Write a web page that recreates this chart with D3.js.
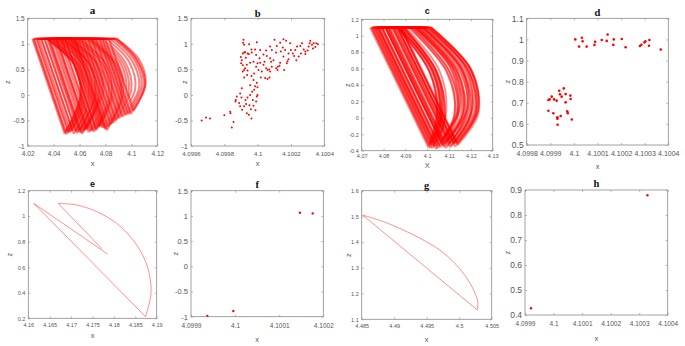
<!DOCTYPE html>
<html>
<head>
<meta charset="utf-8">
<script src="https://cdn.jsdelivr.net/npm/d3@7"></script>
<style>
  body { margin: 0; background: #fff; }
  svg { display: block; }
</style>
</head>
<body>
<svg id="fig" width="685" height="346"></svg>
<script>
// ---- panel a : loops (start on z = 1.1, diagonal to bottom, arc back up) ----
const aTopZ = 1.1;
const aTopStart = [4.0236,4.0365,4.0489,4.0286,4.0615,4.0328,4.0798,4.0400,4.0249,4.0542,
                   4.0350,4.0666,4.0443,4.0273,4.0563,4.0371,4.0754,4.0459,4.0304,4.0530,
                   4.0828,4.0422,4.0245,4.0590,4.0332,4.0490,4.0696,4.0388,4.0266,4.0556,
                   4.0359,4.0639,4.0425,4.0306,4.0513,4.0777,4.0414,4.0466,4.0570,4.0725];
const aBottomX = [4.0485,4.0612,4.0725,4.0530,4.0840,4.0570,4.0995,4.0640,4.0500,4.0775,
                  4.0595,4.0880,4.0685,4.0520,4.0800,4.0620,4.0955,4.0700,4.0545,4.0760,
                  4.1017,4.0660,4.0490,4.0820,4.0580,4.0730,4.0905,4.0630,4.0510,4.0790,
                  4.0600,4.0860,4.0670,4.0555,4.0745,4.0975,4.0650,4.0710,4.0810,4.0930];
const aBottomZ = [-0.76,-0.74,-0.66,-0.72,-0.58,-0.71,-0.37,-0.69,-0.77,-0.64,
                  -0.73,-0.50,-0.71,-0.74,-0.67,-0.76,-0.40,-0.70,-0.70,-0.62,
                  -0.31,-0.68,-0.73,-0.62,-0.75,-0.69,-0.46,-0.71,-0.72,-0.65,
                  -0.70,-0.55,-0.73,-0.76,-0.63,-0.38,-0.66,-0.72,-0.69,-0.43];
const aRightX = [4.0605,4.0730,4.0845,4.0650,4.0960,4.0690,4.1107,4.0760,4.0615,4.0895,
                 4.0715,4.1000,4.0805,4.0638,4.0920,4.0740,4.1078,4.0820,4.0665,4.0880,
                 4.1110,4.0780,4.0608,4.0940,4.0700,4.0850,4.1030,4.0750,4.0628,4.0910,
                 4.0720,4.0980,4.0790,4.0675,4.0865,4.1095,4.0770,4.0830,4.0930,4.1060];
const aRightZ = [-0.05,-0.04,0.01,-0.03,0.06,-0.02,0.19,-0.01,-0.06,0.02,
                 -0.03,0.11,-0.02,-0.04,0.00,-0.05,0.17,-0.02,-0.02,0.03,
                 0.23,0.00,-0.03,0.03,-0.05,-0.01,0.13,-0.02,-0.03,0.02,
                 -0.02,0.08,-0.03,-0.05,0.03,0.18,0.01,-0.03,-0.01,0.15];
const aShoulderX = [4.0560,4.0685,4.0800,4.0600,4.0915,4.0645,4.1045,4.0712,4.0570,4.0850,
                    4.0668,4.0950,4.0760,4.0590,4.0875,4.0692,4.1025,4.0775,4.0618,4.0835,
                    4.1055,4.0735,4.0562,4.0895,4.0652,4.0805,4.0980,4.0705,4.0582,4.0865,
                    4.0675,4.0932,4.0745,4.0628,4.0820,4.1038,4.0725,4.0785,4.0885,4.1005];
const aShoulderZ = [0.58,0.58,0.61,0.59,0.63,0.59,0.69,0.60,0.58,0.61,
                    0.59,0.65,0.59,0.58,0.60,0.58,0.68,0.60,0.60,0.62,
                    0.71,0.60,0.59,0.62,0.58,0.60,0.66,0.59,0.59,0.61,
                    0.60,0.64,0.59,0.58,0.62,0.69,0.61,0.59,0.60,0.67];
const aTopEnd = [4.0350,4.0470,4.0600,4.0395,4.0725,4.0440,4.0888,4.0510,4.0355,4.0660,
                 4.0460,4.0775,4.0555,4.0385,4.0680,4.0485,4.0862,4.0570,4.0415,4.0645,
                 4.0886,4.0530,4.0350,4.0705,4.0445,4.0600,4.0805,4.0500,4.0375,4.0670,
                 4.0470,4.0750,4.0540,4.0420,4.0625,4.0875,4.0520,4.0580,4.0690,4.0835];

// ---- panel b : scatter ----
const bX = [4.099664,4.099690,4.099714,4.099800,4.099837,4.099855,4.099845,4.099869,4.099867,4.099889,
            4.099895,4.099903,4.099907,4.099919,4.099931,4.099935,4.099947,4.099959,4.099963,4.099971,
            4.099939,4.099991,4.099995,4.099987,4.099999,4.099979,4.099967,4.099955,4.099985,4.099999,
            4.099995,4.099975,4.099955,4.099937,4.099919,4.099939,4.099925,4.099911,4.099901,4.099899,
            4.099905,4.099911,4.099911,4.099919,4.099925,4.099939,4.099913,4.099915,4.099919,4.099949,
            4.099963,4.099965,4.099985,4.099995,4.099991,4.099975,4.099955,4.099935,4.099919,4.099999,
            4.100015,4.100005,4.100025,4.100011,4.100035,4.100051,4.100055,4.100041,4.100051,4.100059,
            4.100069,4.100045,4.100059,4.100075,4.100071,4.100085,4.100081,4.100095,4.100111,4.100111,
            4.100121,4.100119,4.100131,4.100135,4.100139,4.100115,4.100151,4.100165,4.100155,4.100175,
            4.100159,4.100185,4.100171,4.100155,4.100135,4.100195,4.100199,4.100211,4.100219,4.100232,
            4.100246,4.100260,4.100236,4.100226,4.100256,4.100276,4.100286,4.100266,4.100300,4.100312,
            4.100316,4.100326,4.100336,4.100332,4.100352,4.100362,4.100346,4.100306,4.100286,4.100185,
            4.100179,4.100075,4.100085,4.100035,4.100019,4.099979,4.099963,4.099905,4.099895,4.099875,
            4.099927,4.099835,4.099951,4.099975,4.100015,4.100075,4.100101,4.099929,4.099947,4.099991];
const bZ = [-0.50,-0.44,-0.46,-0.40,-0.36,-0.53,-0.64,-0.10,-0.13,-0.16,
            -0.22,-0.05,-0.29,-0.22,-0.18,-0.36,-0.39,-0.28,-0.46,-0.10,
            -0.05,-0.13,-0.03,-0.30,0.00,0.10,0.06,0.00,0.17,0.15,
            0.24,0.29,0.19,0.39,0.34,0.48,0.52,0.46,0.62,0.74,
            0.68,0.58,0.81,0.83,0.84,0.81,1.02,1.08,0.98,0.99,
            0.89,0.83,0.89,1.03,0.78,0.65,0.63,0.59,0.49,0.62,
            0.63,0.49,0.46,0.72,0.79,0.87,0.76,0.65,0.52,0.49,
            0.50,0.33,0.31,0.46,0.34,0.55,0.65,0.68,0.83,0.52,
            0.55,0.49,0.57,0.63,0.85,0.96,0.93,0.88,0.75,0.62,
            0.49,0.70,1.06,1.09,1.02,1.01,0.88,0.81,0.76,0.68,
            0.75,0.81,0.95,0.88,0.96,0.89,0.85,1.01,0.87,1.01,
            1.06,0.98,1.01,0.91,1.01,0.99,0.94,0.95,0.80,0.81,
            0.66,0.72,0.88,0.59,0.34,0.42,0.37,0.13,0.03,-0.03,
            -0.10,-0.33,-0.20,-0.21,0.88,0.95,1.08,0.73,0.80,0.55];

// ---- panel c : loops ----
const cTopZ = 1.1;
const cTopStart = [4.0738,4.0820,4.0765,4.0864,4.0787,4.0842,4.0746,4.0878,4.0809,4.0769,
                   4.0843,4.0758,4.0876,4.0793,4.0847,4.0777,4.0816,4.0750,4.0865,4.0808,
                   4.0791,4.0838,4.0756,4.0877,4.0795,4.0827,4.0745,4.0864,4.0810,4.0775,
                   4.0853,4.0808,4.0863,4.0762,4.0826,4.0779,4.0854,4.0774,4.0819,4.0882];
const cBottomX = [4.1005,4.1080,4.1030,4.1120,4.1050,4.1100,4.1015,4.1140,4.1065,4.1040,
                  4.1095,4.1020,4.1130,4.1060,4.1110,4.1035,4.1085,4.1010,4.1125,4.1070,
                  4.1045,4.1105,4.1025,4.1135,4.1055,4.1090,4.1008,4.1115,4.1075,4.1038,
                  4.1100,4.1060,4.1128,4.1018,4.1082,4.1048,4.1112,4.1028,4.1068,4.1138];
const cBottomZ = [-0.36,-0.32,-0.35,-0.30,-0.34,-0.31,-0.37,-0.33,-0.30,-0.38,
                  -0.28,-0.33,-0.29,-0.36,-0.34,-0.31,-0.37,-0.32,-0.32,-0.33,
                  -0.29,-0.36,-0.37,-0.31,-0.32,-0.34,-0.34,-0.27,-0.35,-0.34,
                  -0.25,-0.28,-0.35,-0.30,-0.30,-0.37,-0.31,-0.29,-0.26,-0.30];
const cRightX = [4.1065,4.1165,4.1065,4.1215,4.1125,4.1190,4.1050,4.1234,4.1145,4.1082,
                 4.1180,4.1058,4.1225,4.1140,4.1200,4.1075,4.1172,4.1045,4.1220,4.1155,
                 4.1088,4.1196,4.1062,4.1230,4.1135,4.1182,4.1045,4.1205,4.1162,4.1080,
                 4.1185,4.1140,4.1222,4.1058,4.1168,4.1125,4.1205,4.1070,4.1150,4.1232];
const cRightZ = [0.03,0.06,0.04,0.08,0.05,0.07,0.02,0.05,0.08,0.02,
                 0.09,0.05,0.09,0.03,0.05,0.07,0.02,0.06,0.06,0.05,
                 0.09,0.03,0.02,0.07,0.06,0.05,0.05,0.10,0.04,0.05,
                 0.11,0.09,0.04,0.08,0.08,0.02,0.07,0.09,0.11,0.08];
const cShoulderX = [4.1035,4.1135,4.1030,4.1185,4.1092,4.1160,4.1015,4.1204,4.1112,4.1045,
                    4.1150,4.1022,4.1195,4.1105,4.1170,4.1040,4.1140,4.1010,4.1190,4.1122,
                    4.1052,4.1165,4.1027,4.1200,4.1100,4.1150,4.1010,4.1175,4.1130,4.1045,
                    4.1155,4.1108,4.1192,4.1022,4.1136,4.1090,4.1175,4.1035,4.1118,4.1202];
const cShoulderZ = [0.55,0.57,0.56,0.59,0.56,0.58,0.55,0.57,0.59,0.54,
                    0.60,0.57,0.60,0.55,0.56,0.58,0.55,0.57,0.57,0.57,
                    0.60,0.55,0.55,0.58,0.57,0.56,0.56,0.61,0.56,0.56,
                    0.62,0.60,0.56,0.59,0.59,0.55,0.58,0.60,0.61,0.59];
const cTopEnd = [4.0870,4.0955,4.0890,4.1000,4.0915,4.0975,4.0868,4.1020,4.0940,4.0895,
                 4.0975,4.0875,4.1012,4.0930,4.0985,4.0890,4.0958,4.0862,4.1005,4.0945,
                 4.0900,4.0982,4.0875,4.1015,4.0930,4.0968,4.0865,4.0995,4.0950,4.0895,
                 4.0980,4.0940,4.1008,4.0878,4.0962,4.0922,4.0992,4.0885,4.0948,4.1018];

// ---- panel d : scatter ----
const dX = [4.100006,4.100022,4.100034,4.100037,4.100054,4.100087,4.100090,4.100118,4.100139,4.100143,
            4.100169,4.100167,4.100203,4.100219,4.100280,4.100286,4.100299,4.100303,4.100320,4.100318,
            4.100368,4.099892,4.099897,4.099906,4.099916,4.099927,4.099938,4.099941,4.099948,4.099957,
            4.099965,4.099965,4.099985,4.099986,4.099892,4.099913,4.099930,4.099930,4.099931,4.099944,
            4.099972,4.099974,4.099991];
const dZ = [1.000,0.966,1.008,0.991,0.966,0.974,0.989,0.997,0.993,1.023,
            1.000,0.974,1.002,0.963,0.969,0.975,0.986,0.991,0.997,0.970,
            0.952,0.713,0.716,0.729,0.716,0.710,0.757,0.740,0.729,0.768,
            0.741,0.702,0.734,0.718,0.662,0.650,0.631,0.624,0.596,0.637,
            0.659,0.650,0.621];

// ---- panel e : one trajectory ----
const eLeg1X = [4.1785, 4.1613, 4.1874];
const eLeg1Z = [0.704, 1.100, 0.213];
const eArcX = [4.1874, 4.18868, 4.18806, 4.1865, 4.18416, 4.18065, 4.17598, 4.1713, 4.1670];
const eArcZ = [0.213, 0.396, 0.579, 0.709, 0.827, 0.944, 1.036, 1.088, 1.100];
const eLeg2X = [4.1670, 4.1772];
const eLeg2Z = [1.100, 0.745];

// ---- panel f : scatter ----
const fX = [4.099937, 4.099996, 4.100147, 4.100176];
const fZ = [-0.987, -0.888, 1.063, 1.050];

// ---- panel g : one loop ----
const gLegX = [4.48515, 4.5028];
const gLegZ = [1.505, 1.136];
const gArcX = [4.5028, 4.50285, 4.50244, 4.50167, 4.50064, 4.49910, 4.49705, 4.49449, 4.49141, 4.48833, 4.48515];
const gArcZ = [1.136, 1.169, 1.201, 1.240, 1.279, 1.324, 1.369, 1.408, 1.447, 1.480, 1.505];

// ---- panel h : scatter ----
const hX = [4.099921, 4.100329];
const hZ = [0.427, 0.879];

// ---- axis ticks ----
const ticksA = { x: [4.02,4.04,4.06,4.08,4.1,4.12], y: [-1,-0.5,0,0.5,1,1.5] };
const ticksB = { x: [4.0996,4.0998,4.1,4.1002,4.1004], y: [-1,-0.5,0,0.5,1,1.5] };
const ticksC = { x: [4.07,4.08,4.09,4.1,4.11,4.12,4.13], y: [-0.4,-0.2,0,0.2,0.4,0.6,0.8,1,1.2] };
const ticksD = { x: [4.0998,4.0999,4.1,4.1001,4.1002,4.1003,4.1004], y: [0.5,0.6,0.7,0.8,0.9,1,1.1] };
const ticksE = { x: [4.16,4.165,4.17,4.175,4.18,4.185,4.19], y: [0.2,0.4,0.6,0.8,1,1.2] };
const ticksF = { x: [4.0999,4.1,4.1001,4.1002], y: [-1,-0.5,0,0.5,1,1.5] };
const ticksG = { x: [4.485,4.49,4.495,4.5,4.505], y: [1.1,1.2,1.3,1.4,1.5,1.6] };
const ticksH = { x: [4.0999,4.1,4.1001,4.1002,4.1003,4.1004], y: [0.4,0.5,0.6,0.7,0.8,0.9] };

const SANS = "'Liberation Sans', Arial, sans-serif";
const SERIF = "'Liberation Serif', 'Times New Roman', serif";
const RED = "#ff0000";
const svg = d3.select("#fig");

const fmt = v => String(+v.toFixed(6));

function panel(p) {
  const [x0, y0, x1, y1] = p.box;
  const x = d3.scaleLinear().domain([p.ticks.x[0], p.ticks.x[p.ticks.x.length - 1]]).range([x0, x1]);
  const y = d3.scaleLinear().domain([p.ticks.y[0], p.ticks.y[p.ticks.y.length - 1]]).range([y1, y0]);
  const g = svg.append("g");

  g.append("clipPath").attr("id", "clip-" + p.name)
    .append("rect").attr("x", x0).attr("y", y0).attr("width", x1 - x0).attr("height", y1 - y0);

  const axes = [
    [d3.axisBottom(x).tickValues(p.ticks.x), `translate(0,${y1})`, p.xFont, p.xPad],
    [d3.axisTop(x).tickValues(p.ticks.x), `translate(0,${y0})`, null, 0],
    [d3.axisLeft(y).tickValues(p.ticks.y), `translate(${x0},0)`, p.yFont, 3],
    [d3.axisRight(y).tickValues(p.ticks.y), `translate(${x1},0)`, null, 0]
  ];
  axes.forEach(([ax, tr, fs, pad]) => {
    const a = g.append("g").attr("transform", tr)
      .call(ax.tickSize(-2).tickPadding(pad).tickFormat(fs ? fmt : ""));
    a.select(".domain").remove();
    a.selectAll("line").attr("stroke", "#8a8a8a").attr("stroke-width", 0.6);
    a.selectAll("text").attr("fill", "#555")
      .style("font-family", SANS).style("font-size", fs + "px");
  });

  g.append("rect").attr("x", x0).attr("y", y0).attr("width", x1 - x0).attr("height", y1 - y0)
    .attr("fill", "none").attr("stroke", "#8a8a8a").attr("stroke-width", 0.8);

  g.append("text").text(p.name)
    .attr("x", (x0 + x1) / 2).attr("y", p.titleY).attr("text-anchor", "middle")
    .style("font-family", p.titleSans ? SANS : SERIF).style("font-weight", "bold")
    .style("font-size", p.titleSize + "px").attr("fill", "#111");
  g.append("text").text(p.xLabel || "x")
    .attr("x", (x0 + x1) / 2).attr("y", p.xLabY).attr("text-anchor", "middle")
    .style("font-family", SANS).style("font-size", "7.5px").attr("fill", "#555");
  g.append("text").text("z")
    .attr("transform", `translate(${p.zLabX},${(y0 + y1) / 2}) rotate(-90)`)
    .attr("text-anchor", "middle")
    .style("font-family", SANS).style("font-size", "7.5px").attr("fill", "#555");

  const layer = g.append("g").attr("clip-path", `url(#clip-${p.name})`);
  p.draw(layer, x, y);
}

// each loop: along z = top from start, straight down to the bottom cusp,
// then a smooth arc through the rightmost point and the shoulder back up to top
function loops(L, width, opacity) {
  return (layer, x, y) => {
    const straight = d3.line().x(d => x(d[0])).y(d => y(d[1]));
    const curved = d3.line().x(d => x(d[0])).y(d => y(d[1])).curve(d3.curveCatmullRom.alpha(0.5));
    L.start.forEach((s, i) => {
      let d = straight([[s, L.top], [L.botX[i], L.botZ[i]]]) +
              curved([[L.botX[i], L.botZ[i]], [L.rightX[i], L.rightZ[i]],
                      [L.shX[i], L.shZ[i]], [L.end[i], L.top]]);
      if (i + 1 < L.start.length) d += straight([[L.end[i], L.top], [L.start[i + 1], L.top]]);
      layer.append("path").attr("d", d).attr("fill", "none")
        .attr("stroke", RED).attr("stroke-width", width).attr("stroke-opacity", opacity)
        .attr("stroke-linejoin", "round");
    });
  };
}

function dots(xs, zs, r) {
  return (layer, x, y) => {
    layer.selectAll("circle").data(xs).join("circle")
      .attr("cx", d => x(d)).attr("cy", (d, i) => y(zs[i])).attr("r", r).attr("fill", RED);
  };
}

function curves(pieces) {
  return (layer, x, y) => {
    pieces.forEach(([px, pz, smooth]) => {
      const line = d3.line().x(d => x(d[0])).y(d => y(d[1]));
      if (smooth) line.curve(d3.curveCatmullRom.alpha(0.5));
      layer.append("path").attr("d", line(px.map((v, i) => [v, pz[i]])))
        .attr("fill", "none").attr("stroke", RED).attr("stroke-width", 0.8).attr("stroke-opacity", 0.55);
    });
  };
}

panel({ name: "a", box: [27.7, 18.3, 157.3, 146], ticks: ticksA, xFont: 6.5, yFont: 6.5, xPad: 5,
  titleY: 13.5, titleSize: 11, xLabY: 166, zLabX: 9.5,
  draw: loops({ top: aTopZ, start: aTopStart, botX: aBottomX, botZ: aBottomZ, rightX: aRightX,
                rightZ: aRightZ, shX: aShoulderX, shZ: aShoulderZ, end: aTopEnd }, 2.0, 0.5) });
panel({ name: "b", box: [191, 18.3, 324.3, 146], ticks: ticksB, xFont: 6, yFont: 7.5, xPad: 5.5,
  titleY: 17, titleSize: 10.5, xLabY: 166, zLabX: 187,
  draw: dots(bX, bZ, 1) });
panel({ name: "c", box: [361.7, 19.3, 492.7, 150.7], ticks: ticksC, xFont: 5.5, yFont: 5.5, xPad: 3.5,
  titleY: 13.5, titleSize: 9, titleSans: true, xLabY: 167.5, xLabel: "X", zLabX: 349.5,
  draw: loops({ top: cTopZ, start: cTopStart, botX: cBottomX, botZ: cBottomZ, rightX: cRightX,
                rightZ: cRightZ, shX: cShoulderX, shZ: cShoulderZ, end: cTopEnd }, 1.9, 0.46) });
panel({ name: "d", box: [526.7, 18.3, 668.3, 145], ticks: ticksD, xFont: 7, yFont: 8.5, xPad: 6,
  titleY: 15.5, titleSize: 10.5, xLabY: 168.5, zLabX: 510,
  draw: dots(dX, dZ, 1.3) });
panel({ name: "e", box: [28.3, 190.7, 156.7, 318.3], ticks: ticksE, xFont: 5.5, yFont: 5.5, xPad: 5,
  titleY: 186.5, titleSize: 9, titleSans: true, xLabY: 337.5, zLabX: 12,
  draw: curves([[eLeg1X, eLeg1Z, false], [eArcX, eArcZ, true], [eLeg2X, eLeg2Z, false]]) });
panel({ name: "f", box: [191, 190.7, 323.3, 316.7], ticks: ticksF, xFont: 6.5, yFont: 7.5, xPad: 6.5,
  titleY: 188, titleSize: 10.5, xLabY: 341.5, zLabX: 178,
  draw: dots(fX, fZ, 1.2) });
panel({ name: "g", box: [361.7, 190.7, 491.7, 319.3], ticks: ticksG, xFont: 5.5, yFont: 5.5, xPad: 4.5,
  titleY: 188.5, titleSize: 10.5, xLabY: 341.5, zLabX: 350.5,
  draw: curves([[gLegX, gLegZ, false], [gArcX, gArcZ, true]]) });
panel({ name: "h", box: [525, 190, 667.7, 315], ticks: ticksH, xFont: 6.5, yFont: 8.5, xPad: 6.5,
  titleY: 187, titleSize: 10.5, xLabY: 341, zLabX: 510,
  draw: dots(hX, hZ, 1.2) });
</script>
</body>
</html>
